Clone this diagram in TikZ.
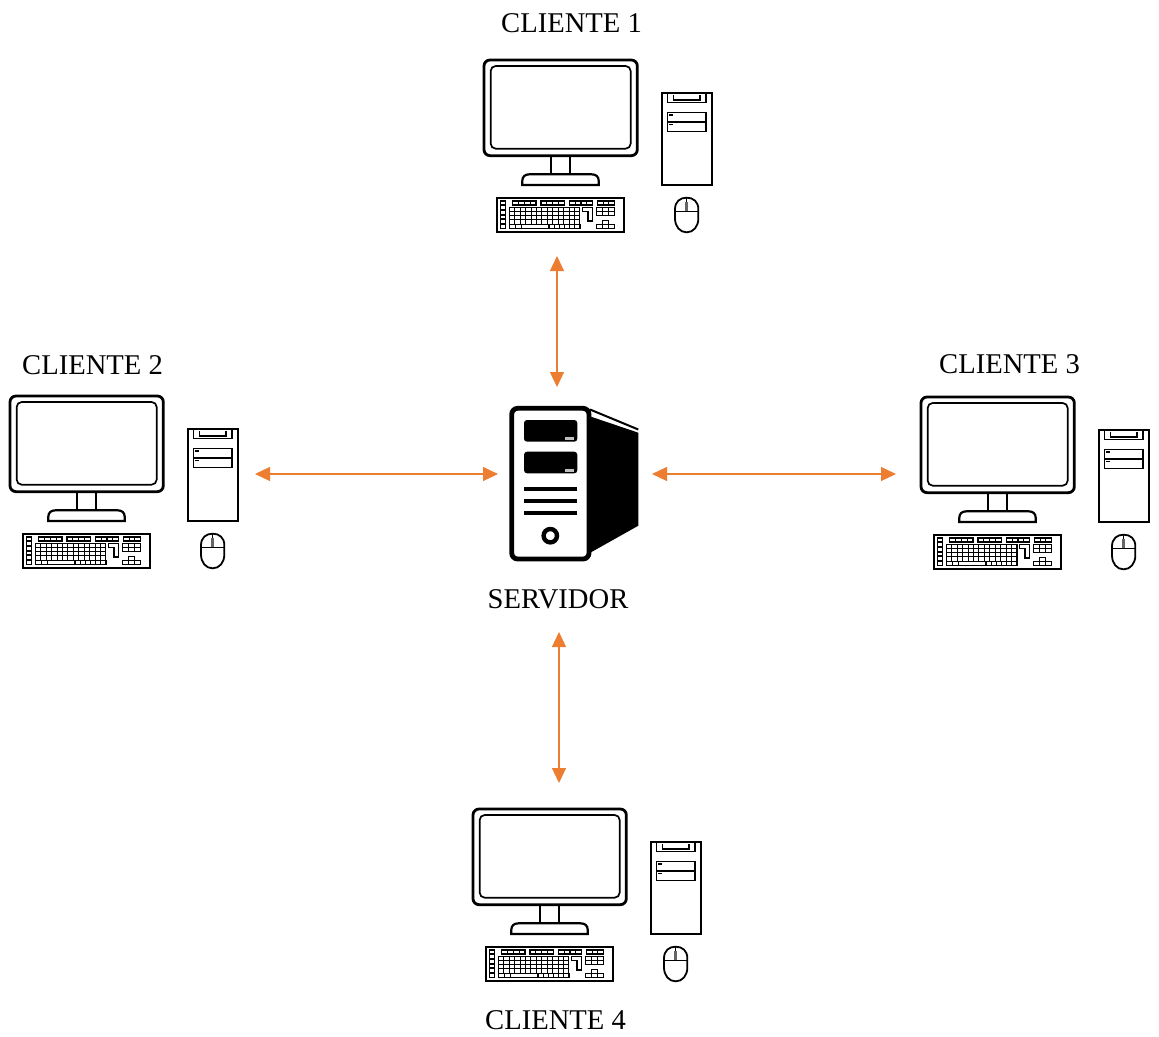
\documentclass[tikz,border=0pt]{standalone}
\usepackage{fontspec}
\setmainfont{Liberation Serif}
\usetikzlibrary{arrows.meta}
\definecolor{linkorange}{RGB}{237,125,49}
\tikzset{
  label text/.style={font=\fontsize{28.6}{30}\selectfont,inner sep=0pt,text=black},
  link/.style={draw=linkorange,line width=1.2pt,{Triangle[length=15pt,width=14pt]}-{Triangle[length=15pt,width=14pt]}},
  key/.style={draw=black,line width=1.05pt,fill=white},
  pcset/.pic={
    \begin{scope}[x=.33333pt,y=-.33333pt,xshift=-14pt,yshift=10pt]
      % monitor
      \draw[line width=2.8pt,rounded corners=6pt] (42,30) rectangle (502,317);
      \draw[line width=1.7pt,rounded corners=5pt] (62,48) rectangle (482,296);
      \draw[line width=2.2pt] (242,317) -- (242,372) (300,317) -- (300,372);
      \draw[line width=2.2pt] (157,405) -- (157,392) .. controls (157,380) and (165,373) .. (178,373) -- (365,373) .. controls (378,373) and (386,380) .. (386,392) -- (386,405) -- cycle;
      % tower
      \draw[line width=2.3pt] (575,130) rectangle (725,404);
      \draw[line width=1.3pt] (593,130) -- (593,157) -- (708,157) -- (708,130);
      \draw[line width=1.3pt] (611,135) -- (611,150) -- (690,150) -- (690,135);
      \draw[line width=1.2pt] (593,188) rectangle (708,215);
      \draw[line width=1.2pt] (593,218) rectangle (708,245);
      \fill (597,192) rectangle (609,197);
      \fill (597,221) rectangle (609,226);
      % keyboard
      \draw[line width=2.3pt,fill=white] (80,443) rectangle (463,545);
      \foreach \yy in {453,467,481,495,509,523} \draw[key] (92,\yy) rectangle +(15,12);
      \foreach \xa in {128,213,298} \foreach \i in {0,1,2,3} \draw[key] (\xa+\i*17.5,453) rectangle +(17.5,12);
      \foreach \i in {0,1,2} \draw[key] (383+\i*16.7,453) rectangle +(16.7,12);
      \foreach \rr in {0,1,2,3} \foreach \i in {0,...,12} \draw[key] (118+\i*16.3,472+\rr*12.6) rectangle +(16.3,12.6);
      \foreach \i in {0,1} \draw[key] (118+\i*18.5,522.4) rectangle +(18.5,12.6);
      \draw[key] (155,522.4) rectangle (237,535);
      \foreach \i in {0,...,5} \draw[key] (237+\i*15.5,522.4) rectangle +(15.5,12.6);
      \draw[key] (338,472) -- (368,472) -- (368,513) -- (354,513) -- (354,485) -- (338,485) -- cycle;
      \foreach \rr in {0,1} \foreach \i in {0,1,2} \draw[key] (380+\i*17.7,472+\rr*12.5) rectangle +(17.7,12.5);
      \draw[key] (397,512) rectangle (415,523);
      \foreach \i in {0,1,2} \draw[key] (380+\i*17.7,524) rectangle +(17.7,11);
      % mouse
      \draw[line width=1.8pt] (615,478) .. controls (615,455) and (630,443) .. (650,443) .. controls (670,443) and (685,455) .. (685,478) -- (685,505) .. controls (685,530) and (670,547) .. (650,547) .. controls (630,547) and (615,530) .. (615,505) -- cycle;
      \draw[line width=1pt] (615,485) -- (685,485) (650,443) -- (650,485);
      \fill[black!60] (646,455) rectangle (654,483);
    \end{scope}
  }
}
\begin{document}
\begin{tikzpicture}[x=1pt,y=-1pt]
  \useasboundingbox (0,0) rectangle (1159,1036);
  \fill[white] (0,0) rectangle (1159,1036);
  % computers
  \pic (pcone) at (484,60) {pcset};
  \pic (pctwo) at (10,396) {pcset};
  \pic (pcthree) at (921,397) {pcset};
  \pic (pcfour) at (473,809) {pcset};
  % server
  \draw[line width=4.8pt,rounded corners=6pt] (511.7,408.3) rectangle (589,559);
  \fill[rounded corners=3pt] (524,420) rectangle (577.3,441.7);
  \fill[rounded corners=3pt] (524,451.7) rectangle (577.3,473.3);
  \fill[black!25] (565,436.5) rectangle (573.5,439.5);
  \fill[black!25] (565,468.5) rectangle (573.5,471.5);
  \fill (524.3,487.3) rectangle (576.7,491.3);
  \fill (524.3,499.3) rectangle (576.7,503.3);
  \fill (524.3,511) rectangle (576.7,515);
  \draw[line width=4.4pt] (550.3,535.7) circle (6.7);
  \fill (591,416.7) -- (638.3,432.7) -- (638.3,525.7) -- (591,552.3) -- cycle;
  \draw[line width=2pt] (590,409.5) -- (638.3,429.5);
  % labels
  \node[label text] (lblone) at (571.5,23) {CLIENTE 1};
  \node[label text] (lbltwo) at (92.5,365) {CLIENTE 2};
  \node[label text] (lblthree) at (1009.5,364) {CLIENTE 3};
  \node[label text] (lblserver) at (558,599) {SERVIDOR};
  \node[label text] (lblfour) at (555.5,1020) {CLIENTE 4};
  % connector ends
  \coordinate (oneport) at (557,256);
  \coordinate (srvtop) at (557,387);
  \coordinate (twoport) at (255,474);
  \coordinate (srvleft) at (498,474);
  \coordinate (srvright) at (652,474);
  \coordinate (threeport) at (896,474);
  \coordinate (srvbottom) at (559,632);
  \coordinate (fourport) at (559,783);
  \draw[link] (oneport) -- (srvtop);
  \draw[link] (twoport) -- (srvleft);
  \draw[link] (srvright) -- (threeport);
  \draw[link] (srvbottom) -- (fourport);
\end{tikzpicture}
\end{document}
